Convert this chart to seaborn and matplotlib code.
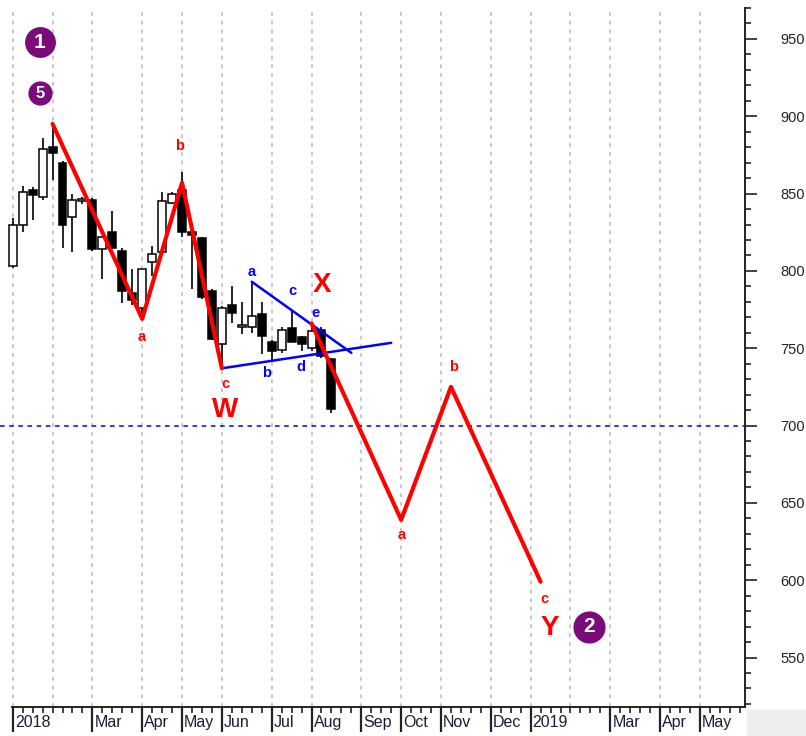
import numpy as np
import pandas as pd
import matplotlib
matplotlib.use("Agg")
import matplotlib.pyplot as plt
import seaborn as sns
from matplotlib.ticker import MultipleLocator, FixedLocator
from matplotlib.transforms import ScaledTranslation
from matplotlib.patches import Rectangle

# weekly candles, Jan 2018 - Aug 2018
opens = [803, 830, 852, 848, 880, 870, 835, 845, 846, 814, 825, 813, 786, 776, 806, 812, 844,
         852, 825, 821, 787, 753, 778, 764, 764, 772, 754, 749, 763, 757, 750, 762, 743]
closes = [830, 851, 849, 879, 876, 830, 846, 846, 814, 822, 815, 787, 781, 801, 811, 845, 850,
          825, 823, 783, 756, 776, 773, 765, 771, 758, 748, 762, 754, 753, 761, 745, 711]
highs = [834, 855, 854, 886, 895, 871, 850, 848, 847, 822, 839, 815, 801, 801, 816, 851, 851,
         864, 826, 822, 788, 777, 790, 780, 793, 780, 755, 764, 774, 758, 764, 764, 744]
lows = [802, 825, 833, 846, 859, 815, 812, 843, 813, 795, 814, 779, 778, 770, 797, 811, 843,
        822, 788, 782, 755, 737, 766, 759, 760, 746, 742, 747, 754, 748, 748, 744, 708]

# wave paths (week index, price)
wave_w_x = [4, 13, 17, 21]
wave_w_y = [895, 769, 857, 737]
wave_y_x = [30, 39, 44, 53]
wave_y_y = [766, 639, 725, 599]
tri_upper_x = [24, 34]
tri_upper_y = [793, 747]
tri_lower_x = [21, 38]
tri_lower_y = [737, 753.5]
level = 700

red_labels = [("a", 13.0, 757), ("b", 16.8, 881), ("c", 21.4, 727),
              ("a", 39.1, 629), ("b", 44.3, 738), ("c", 53.4, 588)]
blue_labels = [("a", 24.0, 799), ("b", 25.5, 734), ("c", 28.1, 787),
               ("d", 28.9, 738), ("e", 30.35, 773)]
big_labels = [("W", 21.3, 710), ("X", 31.05, 791), ("Y", 53.9, 569)]
circles = [("1", 2.74, 948, 450, 15), ("5", 2.74, 915, 270, 12), ("2", 57.86, 570, 490, 15)]

weeks = pd.date_range("2018-01-05", periods=75, freq="W-FRI")

sns.set_theme(style="white")
plt.rcParams["font.family"] = ["Liberation Sans", "DejaVu Sans"]

fig = plt.figure(figsize=(8.06, 7.36), dpi=100)
ax = fig.add_axes([0, 29 / 736, 745 / 806, 699 / 736])

df = pd.DataFrame({"open": opens, "close": closes, "high": highs, "low": lows})
df["x"] = np.arange(len(df))
up = df["close"] >= df["open"]

# wicks then bodies
ax.vlines(df["x"], df["low"], df["high"], color="black", lw=1.2, zorder=2)
body_h = np.maximum((df["close"] - df["open"]).abs(), 1.2)
ax.bar(df["x"], body_h, bottom=df[["open", "close"]].min(axis=1), width=0.8,
       color=np.where(up, "white", "black"), edgecolor="black", linewidth=1.1, zorder=3)

# month grid and month ticks
first_weeks = [i for i in range(len(weeks)) if i == 0 or weeks[i].month != weeks[i - 1].month]
for i in first_weeks:
    ax.axvline(i, color="#c8c8c8", lw=1.4, ls=(0, (2, 2.5)), zorder=0)

ax.axhline(level, color="#0000ff", lw=1.1, ls=(0, (3, 3)), zorder=1)

sns.lineplot(x=wave_w_x, y=wave_w_y, sort=False, color="#ff0000", lw=3, ax=ax, zorder=5)
sns.lineplot(x=wave_y_x, y=wave_y_y, sort=False, color="#ff0000", lw=3, ax=ax, zorder=5)
sns.lineplot(x=tri_upper_x, y=tri_upper_y, sort=False, color="#0000ff", lw=1.8, ax=ax, zorder=4)
sns.lineplot(x=tri_lower_x, y=tri_lower_y, sort=False, color="#0000ff", lw=1.8, ax=ax, zorder=4)

for t, x, y in red_labels:
    ax.text(x, y, t, color="#ff0000", fontsize=10.5, fontweight="bold", ha="center", va="center")
for t, x, y in blue_labels:
    ax.text(x, y, t, color="#0000ff", fontsize=10.5, fontweight="bold", ha="center", va="center")
for t, x, y in big_labels:
    ax.text(x, y, t, color="#ff0000", fontsize=20, fontweight="bold", ha="center", va="center")
for t, x, y, s, fs in circles:
    ax.scatter([x], [y], s=s, color="#7b0a7b", zorder=6)
    ax.text(x, y, t, color="white", fontsize=fs, fontweight="bold", ha="center", va="center", zorder=7)

ax.set_xlim(-1.275, 73.52)
ax.set_ylim(518, 970)

# axes styling
for side in ["top", "left"]:
    ax.spines[side].set_visible(False)
ax.spines["right"].set_color("#222222")
ax.spines["bottom"].set_color("#222222")
ax.spines["right"].set_linewidth(1.4)
ax.spines["bottom"].set_linewidth(1.4)
ax.spines["bottom"].set_bounds(-0.05, 73.52)

ax.yaxis.tick_right()
ax.yaxis.set_major_locator(MultipleLocator(50))
ax.yaxis.set_minor_locator(MultipleLocator(10))
ax.tick_params(axis="y", which="major", right=True, left=False, length=8.5, width=1.2,
               pad=17, labelsize=10.5, colors="#222222", direction="out")
ax.tick_params(axis="y", which="minor", right=True, left=False, length=4, width=1.2,
               colors="#222222", direction="out")

label_weeks = [i for i in first_weeks if weeks[i].month != 2]
label_text = [str(weeks[i].year) if weeks[i].month == 1 else weeks[i].strftime("%b")
              for i in label_weeks]
ax.xaxis.set_major_locator(FixedLocator(label_weeks))
ax.set_xticklabels(label_text)
ax.xaxis.set_minor_locator(FixedLocator(range(len(weeks) - 1)))
ax.tick_params(axis="x", which="major", bottom=True, length=18, width=1.6, pad=-12,
               labelsize=11.5, labelcolor="#1a1a3a", color="#222222", direction="out")
ax.tick_params(axis="x", which="minor", bottom=True, length=4.5, width=1.2,
               color="#222222", direction="out")
offset = ScaledTranslation(1.5 / 72, 0, fig.dpi_scale_trans)
for lab in ax.get_xticklabels():
    lab.set_horizontalalignment("left")
    lab.set_verticalalignment("top")
    lab.set_transform(lab.get_transform() + offset)

fig.patches.append(Rectangle((747 / 806, 0), 59 / 806, 26 / 736, transform=fig.transFigure,
                             color="#eeeeee", zorder=-1))

fig.savefig("out.png", dpi=100)
